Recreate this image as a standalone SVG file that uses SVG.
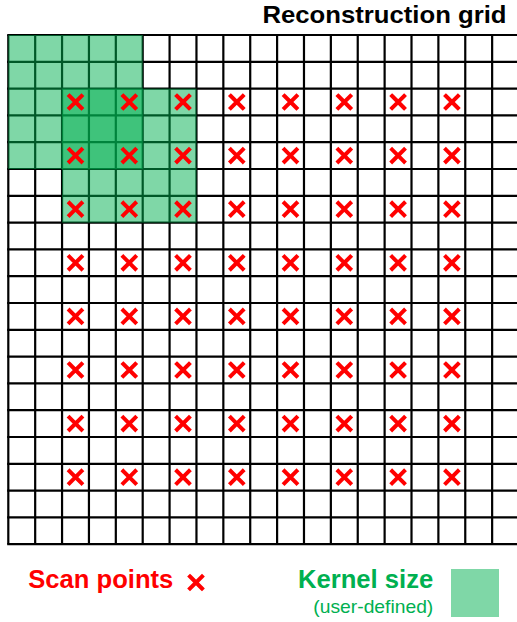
<svg xmlns="http://www.w3.org/2000/svg" xmlns:xlink="http://www.w3.org/1999/xlink" width="517" height="622" viewBox="0 0 517 622">
<style>
.g{stroke:#000;stroke-width:2.2;fill:none}
.k{fill:#00b050;fill-opacity:0.5}
.t{font-family:"Liberation Sans",Arial,sans-serif;font-weight:bold}
</style>
<defs>
<g id="x"><path d="M-6,-6L6,6M6,-6L-6,6" stroke="#ff0000" stroke-width="4" stroke-linecap="square" fill="none"/></g>
</defs>
<rect width="517" height="622" fill="#fff"/>
<text class="t" x="262.5" y="23" font-size="24" textLength="244" lengthAdjust="spacingAndGlyphs" fill="#000">Reconstruction grid</text>
<g id="grid" class="g">
<path d="M8.3,35V544.2M35.18,35V544.2M62.06,35V544.2M88.94,35V544.2M115.82,35V544.2M142.7,35V544.2M169.58,35V544.2M196.46,35V544.2M223.34,35V544.2M250.22,35V544.2M277.1,35V544.2M303.98,35V544.2M330.86,35V544.2M357.74,35V544.2M384.62,35V544.2M411.5,35V544.2M438.38,35V544.2M465.26,35V544.2M492.14,35V544.2M519.02,35V544.2"/>
<path d="M7.2,35H520M7.2,61.8H520M7.2,88.6H520M7.2,115.4H520M7.2,142.2H520M7.2,169H520M7.2,195.8H520M7.2,222.6H520M7.2,249.4H520M7.2,276.2H520M7.2,303H520M7.2,329.8H520M7.2,356.6H520M7.2,383.4H520M7.2,410.2H520M7.2,437H520M7.2,463.8H520M7.2,490.6H520M7.2,517.4H520M7.2,544.2H520"/>
</g>
<g id="kernels">
<rect class="k" x="8.3" y="35" width="134.4" height="134"/>
<rect class="k" x="62.06" y="88.6" width="134.4" height="134"/>
</g>
<g id="scanpoints">
<use xlink:href="#x" x="75.5" y="102"/><use xlink:href="#x" x="129.3" y="102"/><use xlink:href="#x" x="183" y="102"/><use xlink:href="#x" x="236.8" y="102"/><use xlink:href="#x" x="290.5" y="102"/><use xlink:href="#x" x="344.3" y="102"/><use xlink:href="#x" x="398.1" y="102"/><use xlink:href="#x" x="451.9" y="102"/>
<use xlink:href="#x" x="75.5" y="155.6"/><use xlink:href="#x" x="129.3" y="155.6"/><use xlink:href="#x" x="183" y="155.6"/><use xlink:href="#x" x="236.8" y="155.6"/><use xlink:href="#x" x="290.5" y="155.6"/><use xlink:href="#x" x="344.3" y="155.6"/><use xlink:href="#x" x="398.1" y="155.6"/><use xlink:href="#x" x="451.9" y="155.6"/>
<use xlink:href="#x" x="75.5" y="209.2"/><use xlink:href="#x" x="129.3" y="209.2"/><use xlink:href="#x" x="183" y="209.2"/><use xlink:href="#x" x="236.8" y="209.2"/><use xlink:href="#x" x="290.5" y="209.2"/><use xlink:href="#x" x="344.3" y="209.2"/><use xlink:href="#x" x="398.1" y="209.2"/><use xlink:href="#x" x="451.9" y="209.2"/>
<use xlink:href="#x" x="75.5" y="262.8"/><use xlink:href="#x" x="129.3" y="262.8"/><use xlink:href="#x" x="183" y="262.8"/><use xlink:href="#x" x="236.8" y="262.8"/><use xlink:href="#x" x="290.5" y="262.8"/><use xlink:href="#x" x="344.3" y="262.8"/><use xlink:href="#x" x="398.1" y="262.8"/><use xlink:href="#x" x="451.9" y="262.8"/>
<use xlink:href="#x" x="75.5" y="316.4"/><use xlink:href="#x" x="129.3" y="316.4"/><use xlink:href="#x" x="183" y="316.4"/><use xlink:href="#x" x="236.8" y="316.4"/><use xlink:href="#x" x="290.5" y="316.4"/><use xlink:href="#x" x="344.3" y="316.4"/><use xlink:href="#x" x="398.1" y="316.4"/><use xlink:href="#x" x="451.9" y="316.4"/>
<use xlink:href="#x" x="75.5" y="370"/><use xlink:href="#x" x="129.3" y="370"/><use xlink:href="#x" x="183" y="370"/><use xlink:href="#x" x="236.8" y="370"/><use xlink:href="#x" x="290.5" y="370"/><use xlink:href="#x" x="344.3" y="370"/><use xlink:href="#x" x="398.1" y="370"/><use xlink:href="#x" x="451.9" y="370"/>
<use xlink:href="#x" x="75.5" y="423.6"/><use xlink:href="#x" x="129.3" y="423.6"/><use xlink:href="#x" x="183" y="423.6"/><use xlink:href="#x" x="236.8" y="423.6"/><use xlink:href="#x" x="290.5" y="423.6"/><use xlink:href="#x" x="344.3" y="423.6"/><use xlink:href="#x" x="398.1" y="423.6"/><use xlink:href="#x" x="451.9" y="423.6"/>
<use xlink:href="#x" x="75.5" y="477.2"/><use xlink:href="#x" x="129.3" y="477.2"/><use xlink:href="#x" x="183" y="477.2"/><use xlink:href="#x" x="236.8" y="477.2"/><use xlink:href="#x" x="290.5" y="477.2"/><use xlink:href="#x" x="344.3" y="477.2"/><use xlink:href="#x" x="398.1" y="477.2"/><use xlink:href="#x" x="451.9" y="477.2"/>
</g>
<g id="legend-scan">
<text class="t" x="28.3" y="587.7" font-size="25.5" textLength="145" lengthAdjust="spacingAndGlyphs" fill="#ff0000">Scan points</text>
<use xlink:href="#x" x="196" y="582.5"/>
</g>
<g id="legend-kernel">
<text class="t" x="298" y="587.5" font-size="25.5" textLength="135.3" lengthAdjust="spacingAndGlyphs" fill="#00b050">Kernel size</text>
<text x="313.3" y="612.5" font-size="19" textLength="120" lengthAdjust="spacingAndGlyphs" fill="#00b050" font-family="'Liberation Sans',Arial,sans-serif">(user-defined)</text>
<rect class="k" x="451" y="569" width="48" height="48"/>
</g>
</svg>
